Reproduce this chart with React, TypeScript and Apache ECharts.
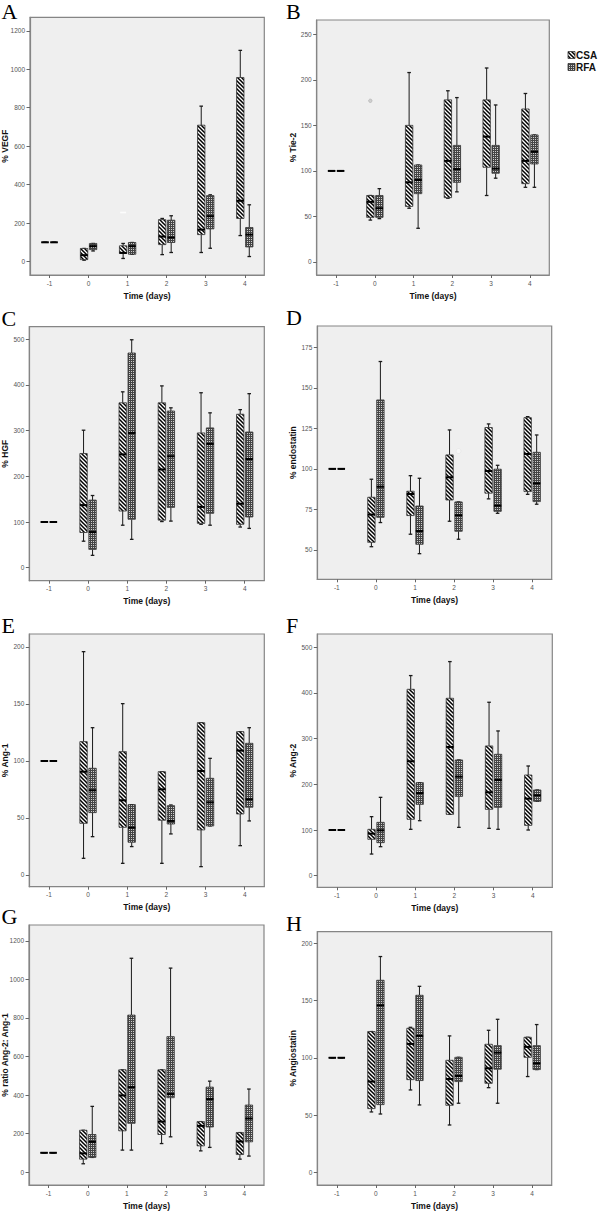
import React, { useEffect, useRef } from "react";
import * as echarts from "echarts";

// ---------- categories ----------
const days = ["-1", "0", "1", "2", "3", "4"];

// ---------- box values: [lower whisker, Q1, median, Q3, upper whisker] per day ----------
const vegfCSA = [[100, 100, 100, 100, 100], [7, 10, 33, 68, 68], [16, 42, 45, 82, 94], [36, 88, 130, 218, 224], [47, 140, 166, 709, 808], [135, 224, 316, 957, 1098]];
const vegfRFA = [[100, 100, 100, 100, 100], [55, 62, 80, 94, 94], [38, 38, 80, 99, 99], [47, 99, 125, 215, 238], [69, 170, 236, 343, 347], [26, 76, 140, 177, 295]];

const tieCSA = [[100, 100, 100, 100, 100], [46, 49, 66, 73, 73], [59, 61, 87.5, 150, 208], [70, 70.6, 111, 178, 188], [73, 104, 137.6, 178, 213], [82, 86, 111, 168, 185]];
const tieRFA = [[100, 100, 100, 100, 100], [47.6, 49, 59, 73, 80.5], [37, 75, 90, 106.5, 106.5], [77, 87.5, 102, 128, 180.5], [92, 97.4, 102.5, 128, 172.4], [82, 107.6, 121, 139.5, 139.5]];

const hgfCSA = [[100, 100, 100, 100, 100], [58, 77, 137, 250, 301], [93, 124, 248, 361, 385], [101, 104, 215, 361, 398], [95, 97, 133, 295, 383], [89, 95, 140, 336, 346]];
const hgfRFA = [[100, 100, 100, 100, 100], [27, 40, 78, 148, 158], [62, 106, 295, 470, 499], [102, 132, 244, 343, 350], [93, 119, 271, 306, 339], [86, 111, 238, 297, 381]];

const endoCSA = [[100, 100, 100, 100, 100], [52, 54.7, 71.8, 82.5, 93.6], [59.7, 71.2, 84.5, 86.2, 95.8], [67.7, 80.8, 94.8, 108.6, 124], [81.5, 85, 98.7, 125.5, 127.7], [84.3, 86, 109.2, 131.6, 132.2]];
const endoRFA = [[100, 100, 100, 100, 100], [66.9, 70.1, 89, 142.5, 166.2], [47.7, 53.5, 61.7, 77.1, 94.2], [56.6, 61.5, 71.4, 79.6, 79.6], [72.6, 73.8, 77.3, 99.8, 102.2], [78.2, 79.8, 91.1, 110.2, 120.9]];

const ang1CSA = [[100, 100, 100, 100, 100], [14.6, 45.3, 90.6, 117, 195.9], [10.2, 41.8, 65.5, 108.2, 150.3], [10.2, 48, 75.1, 90.6, 90.6], [7.3, 39.5, 91.2, 133.6, 133.6], [25.7, 53.5, 109.1, 125.7, 125.7]];
const ang1RFA = [[100, 100, 100, 100, 100], [33.6, 54.7, 74.3, 93.6, 129.2], [24.9, 28.7, 41.5, 61.7, 61.7], [36, 44.7, 47.4, 60.8, 61.4], [43, 43, 63.7, 84.8, 102.3], [47.4, 59.4, 66.4, 115.5, 129.2]];

const ang2CSA = [[100, 100, 100, 100, 100], [47.4, 79.6, 92, 101.5, 129.2], [101.5, 123.4, 250.4, 408, 438], [134.3, 134.3, 281.8, 388.3, 468.6], [103.6, 145.3, 182.5, 284, 379.6], [100, 110.2, 168.6, 220.4, 240.1]];
const ang2RFA = [[100, 100, 100, 100, 100], [63.5, 72.3, 99.3, 116.8, 171.5], [120.4, 156.2, 181, 203.6, 203.6], [105.8, 173.7, 216.8, 253.3, 253.3], [101.5, 149.6, 209.5, 265.7, 316.8], [162.8, 162.8, 175.9, 187.6, 187.6]];

const ratioCSA = [[100, 100, 100, 100, 100], [43, 67, 97, 217, 217], [114, 214, 398, 531, 531], [148, 195, 262, 531, 531], [110, 136, 240, 262, 262], [67, 91, 159, 205, 205]];
const ratioRFA = [[100, 100, 100, 100, 100], [76, 76, 157, 195, 341], [114, 253, 441, 815, 1110], [183, 386, 405, 703, 1059], [128, 234, 379, 441, 472], [83, 157, 278, 348, 431]];

const angioCSA = [[100, 100, 100, 100, 100], [52.7, 55.6, 79.2, 122.9, 122.9], [71.9, 80.9, 112.1, 125.8, 126.6], [41.3, 58.5, 81.5, 97.8, 119.1], [73.9, 77.7, 90.8, 111.8, 124], [83.6, 100.4, 109.5, 117.9, 117.9]];
const angioRFA = [[100, 100, 100, 100, 100], [50.9, 59.1, 145.8, 167.7, 188.4], [58.8, 80.1, 119.1, 154.6, 162.4], [60.3, 79.2, 84.1, 100.4, 100.4], [60.3, 90, 104.5, 110.6, 133.6], [89.7, 89.7, 95.2, 110.6, 129]];

// ---------- outliers: [day index, value] ----------
const vegfOutCSA = [[2, 255]];
const tieOutCSA = [[1, 177]];
const endoOutRFA = [[3, 111]];

// ---------- tick labels ----------
const ticks1200 = [0, 200, 400, 600, 800, 1000, 1200];
const ticks250 = [0, 50, 100, 150, 200, 250];
const ticks500 = [0, 100, 200, 300, 400, 500];
const ticksEndo = [50, 75, 100, 125, 150, 175];
const ticks200 = [0, 50, 100, 150, 200];

const yTitles = ["% VEGF", "% Tie-2", "% HGF", "% endostatin", "% Ang-1", "% Ang-2", "% ratio Ang-2: Ang-1", "% Angiostatin"];
const letters = ["A", "B", "C", "D", "E", "F", "G", "H"];
const seriesNames = ["CSA", "RFA"];

const SANS = '"Liberation Sans", Arial, sans-serif';
const SERIF = '"Liberation Serif", "Times New Roman", serif';

function makeHatch(): any {
  const c = document.createElement("canvas");
  c.width = 4;
  c.height = 4;
  const g = c.getContext("2d")!;
  g.fillStyle = "#ffffff";
  g.fillRect(0, 0, 4, 4);
  g.strokeStyle = "#000000";
  g.lineWidth = 1.5;
  g.beginPath();
  g.moveTo(-1, -1); g.lineTo(5, 5);
  g.moveTo(-1, 3); g.lineTo(1, 5);
  g.moveTo(3, -1); g.lineTo(5, 1);
  g.stroke();
  return { image: c.toDataURL(), repeat: "repeat", imageWidth: 4, imageHeight: 4 };
}

function makeDots(): any {
  const c = document.createElement("canvas");
  c.width = 4;
  c.height = 4;
  const g = c.getContext("2d")!;
  g.fillStyle = "#454545";
  g.fillRect(0, 0, 4, 4);
  g.fillStyle = "#cfcfcf";
  g.fillRect(1, 1, 1, 1);
  g.fillRect(3, 1, 1, 1);
  g.fillRect(1, 3, 1, 1);
  g.fillRect(3, 3, 1, 1);
  return { image: c.toDataURL(), repeat: "repeat", imageWidth: 4, imageHeight: 4 };
}

export default function App() {
  const ref = useRef<HTMLDivElement>(null);

  useEffect(() => {
    const chart = echarts.init(ref.current!, null, { renderer: "svg" });
    const hatch = makeHatch();
    const dots = makeDots();

    // layout of the eight panels: [left, top, width, height] in px
    const grids = [
      [30, 17.3, 234.3, 257.7],
      [316.7, 20, 232.6, 255],
      [29.3, 326.7, 235, 254],
      [317.3, 326, 234.4, 253.3],
      [29.3, 634, 235, 252.7],
      [317.3, 634, 235, 253.3],
      [29, 925, 235, 260],
      [317.3, 931.7, 234.4, 253.3],
    ];
    const ranges = [
      [-70, 1270, ticks1200],
      [-14.3, 265.7, ticks250],
      [-28.5, 527.6, ticks500],
      [31.9, 188.1, ticksEndo],
      [-10.3, 211.4, ticks200],
      [-25.4, 529, ticks500],
      [-67.2, 1282.8, ticks1200],
      [-11.1, 210.1, ticks200],
    ];
    const boxData = [
      [vegfCSA, vegfRFA], [tieCSA, tieRFA], [hgfCSA, hgfRFA], [endoCSA, endoRFA],
      [ang1CSA, ang1RFA], [ang2CSA, ang2RFA], [ratioCSA, ratioRFA], [angioCSA, angioRFA],
    ];

    const OFF = 4.5;
    const BOXW = 7.4;
    const CAPW = 3.6;

    const makeRender = (offset: number, fill: any) => (params: any, api: any) => {
      const cat = api.value(0);
      const y = (v: number) => api.coord([cat, v])[1];
      const x = api.coord([cat, api.value(3)])[0] + offset;
      const lo = y(api.value(1));
      const q1 = y(api.value(2));
      const med = y(api.value(3));
      const q3 = y(api.value(4));
      const hi = y(api.value(5));
      const ws = { stroke: "#1a1a1a", lineWidth: 1 };
      const cs = { stroke: "#1a1a1a", lineWidth: 1.3 };
      return {
        type: "group",
        children: [
          { type: "line", shape: { x1: x, y1: hi, x2: x, y2: q3 }, style: ws },
          { type: "line", shape: { x1: x, y1: q1, x2: x, y2: lo }, style: ws },
          { type: "line", shape: { x1: x - CAPW / 2, y1: hi, x2: x + CAPW / 2, y2: hi }, style: cs },
          { type: "line", shape: { x1: x - CAPW / 2, y1: lo, x2: x + CAPW / 2, y2: lo }, style: cs },
          { type: "rect", shape: { x: x - BOXW / 2, y: q3, width: BOXW, height: Math.max(q1 - q3, 0) }, style: { fill, stroke: "#333", lineWidth: 0.8 } },
          { type: "line", shape: { x1: x - BOXW / 2, y1: med, x2: x + BOXW / 2, y2: med }, style: { stroke: "#000", lineWidth: 2 } },
        ],
      };
    };

    const series: any[] = [];
    boxData.forEach((pair, gi) => {
      pair.forEach((rows, si) => {
        series.push({
          type: "custom",
          name: seriesNames[si],
          xAxisIndex: gi,
          yAxisIndex: gi,
          encode: { x: 0, y: [1, 2, 3, 4, 5] },
          data: rows.map((r, i) => [i, ...r]),
          renderItem: makeRender(si === 0 ? -OFF : OFF, si === 0 ? hatch : dots),
          silent: true,
        });
      });
    });
    // outliers
    series.push({
      type: "scatter", xAxisIndex: 0, yAxisIndex: 0, data: vegfOutCSA,
      symbol: "rect", symbolSize: [6, 1.6], symbolOffset: [-OFF, 0],
      itemStyle: { color: "#ffffff" }, silent: true,
    });
    series.push({
      type: "scatter", xAxisIndex: 1, yAxisIndex: 1, data: tieOutCSA,
      symbol: "circle", symbolSize: 3.5, symbolOffset: [-OFF, 0],
      itemStyle: { color: "#c8c8c8", borderColor: "#999", borderWidth: 0.5 }, silent: true,
    });
    series.push({
      type: "scatter", xAxisIndex: 3, yAxisIndex: 3, data: endoOutRFA,
      symbol: "circle", symbolSize: 5, symbolOffset: [OFF, 0],
      itemStyle: { color: "#f7f7f7", borderColor: "#e4e4e4", borderWidth: 0.8 }, silent: true,
    });

    const graphic: any[] = [];
    grids.forEach((g, i) => {
      const [l, t, w, h] = g;
      const right = i % 2 === 1;
      // panel letter
      graphic.push({
        type: "text",
        x: right ? 286 : 1.5,
        y: Math.max(t - 8.5, 11.5),
        style: { text: letters[i], font: `22px ${SERIF}`, fill: "#000", align: "left", verticalAlign: "middle" },
      });
      // y title
      graphic.push({
        type: "text",
        x: right ? 293 : 5,
        y: t + h / 2,
        rotation: Math.PI / 2,
        style: { text: yTitles[i], font: `bold 8.5px ${SANS}`, fill: "#111", align: "center", verticalAlign: "middle" },
      });
      // x title
      graphic.push({
        type: "text",
        x: l + w / 2,
        y: t + h + 20.5,
        style: { text: "Time (days)", font: `bold 8.5px ${SANS}`, fill: "#111", align: "center", verticalAlign: "middle" },
      });
    });
    // legend
    const legendY = [55, 67];
    [hatch, dots].forEach((fill, k) => {
      graphic.push({
        type: "rect",
        shape: { x: 568, y: legendY[k] - 3.5, width: 7, height: 7 },
        style: { fill, stroke: "#333", lineWidth: 0.8 },
      });
      graphic.push({
        type: "text",
        x: 576,
        y: legendY[k],
        style: { text: seriesNames[k], font: `bold 10px ${SANS}`, fill: "#111", align: "left", verticalAlign: "middle" },
      });
    });

    const option: any = {
      animation: false,
      backgroundColor: "#ffffff",
      grid: grids.map((g) => ({
        left: g[0], top: g[1], width: g[2], height: g[3],
        show: true, backgroundColor: "#efefef", borderColor: "#858585", borderWidth: 1.2,
        containLabel: false, outerBoundsMode: "none",
      })),
      xAxis: grids.map((g, i) => ({
        gridIndex: i,
        type: "category",
        data: days,
        boundaryGap: true,
        axisLine: { show: true, onZero: false, lineStyle: { color: "#858585", width: 1.2 } },
        axisTick: { show: true, alignWithLabel: true, length: 3, lineStyle: { color: "#666" } },
        axisLabel: { fontSize: 6.5, color: "#555", margin: 4.5, fontFamily: SANS },
        splitLine: { show: false },
      })),
      yAxis: ranges.map((r, i) => ({
        gridIndex: i,
        type: "value",
        min: r[0],
        max: r[1],
        axisLine: { show: true, onZero: false, lineStyle: { color: "#858585", width: 1.2 } },
        axisTick: { show: true, length: 3.5, customValues: r[2], lineStyle: { color: "#666" } },
        axisLabel: {
          customValues: r[2],
          fontSize: 6.5,
          color: "#555",
          margin: 5,
          fontFamily: SANS,
          formatter: (v: number) => String(v),
        },
        splitLine: { show: false },
      })),
      series,
      graphic,
    };
    chart.setOption(option);
    return () => chart.dispose();
  }, []);

  return <div ref={ref} style={{ position: "absolute", left: 0, top: 0, width: 600, height: 1211 }} />;
}
